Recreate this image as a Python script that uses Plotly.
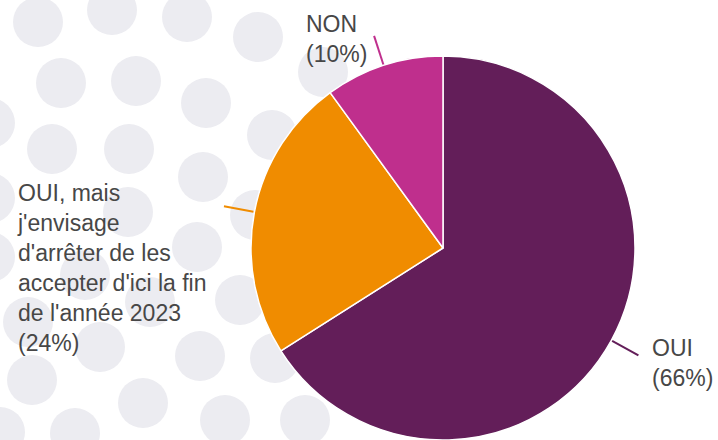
import numpy as np
import plotly.graph_objects as go

# Données
labels = ["OUI", "OUI, mais j'envisage d'arrêter de les accepter d'ici la fin de l'année 2023", "NON"]
values = [66, 24, 10]
colors = ["#631e59", "#f08c00", "#bf2f8d"]
label_texts = ["OUI<br>(66%)",
               "OUI, mais<br>j'envisage<br>d'arrêter de les<br>accepter d'ici la fin<br>de l'année 2023<br>(24%)",
               "NON<br>(10%)"]

W, H = 718, 440
CX, R = 443, 192
CY = H - R


def px(x, y):
    """pixels -> coordonnées papier"""
    return x / W, 1 - y / H


fig = go.Figure(go.Pie(
    labels=labels, values=values, sort=False, direction="clockwise", rotation=0,
    marker=dict(colors=colors, line=dict(color="white", width=1.5)),
    textinfo="none", hoverinfo="label+percent", showlegend=False,
    domain=dict(x=[(CX - R) / W, (CX + R) / W], y=[0, 2 * R / H])))

# fond: pastilles grises
dots = [(38, 22), (112, 10), (187, 17), (258, 37), (323, 72),
        (61, 83), (136, 81), (206, 103), (272, 135), (-10, 123),
        (52, 149), (129, 149), (203, 177), (-10, 198),
        (128, 212), (255, 215), (197, 247), (-10, 257), (85, 275),
        (240, 300), (150, 302), (28, 322), (100, 347), (200, 356), (275, 358),
        (32, 380), (143, 403), (225, 420), (305, 420), (75, 433), (0, 432)]
shapes = []
for (x, y) in dots:
    x0, y0 = px(x - 25, y - 25)
    x1, y1 = px(x + 25, y + 25)
    shapes.append(dict(type="circle", xref="paper", yref="paper", x0=x0, x1=x1,
                       y0=y1, y1=y0, fillcolor="#ececf1", line=dict(width=0),
                       layer="below"))

# traits de rappel
total = sum(values)
cum = np.cumsum([0] + values[:-1])
for v, c0, col in zip(values, cum, colors):
    th = 2 * np.pi * (c0 + v / 2) / total
    xa, ya = px(CX + (R + 1) * np.sin(th), CY - (R + 1) * np.cos(th))
    xb, yb = px(CX + (R + 31) * np.sin(th), CY - (R + 31) * np.cos(th))
    shapes.append(dict(type="line", xref="paper", yref="paper", x0=xa, y0=ya,
                       x1=xb, y1=yb, line=dict(color=col, width=2)))

label_pos = [(650, 363), (15, 268), (304, 39)]
annotations = []
for t, (x, y) in zip(label_texts, label_pos):
    ax, ay = px(x, y)
    annotations.append(dict(text=t, x=ax, y=ay, xref="paper", yref="paper",
                            xanchor="left", yanchor="middle", align="left",
                            showarrow=False,
                            font=dict(size=23, color="#474747",
                                      family="Liberation Sans, Arial, sans-serif")))

fig.update_layout(width=W, height=H, margin=dict(l=0, r=0, t=0, b=0),
                  paper_bgcolor="white", plot_bgcolor="white",
                  shapes=shapes, annotations=annotations)
fig.write_html("out.html", config={"displayModeBar": False},
               post_script="document.body.style.margin='0';document.body.style.overflow='hidden';")
